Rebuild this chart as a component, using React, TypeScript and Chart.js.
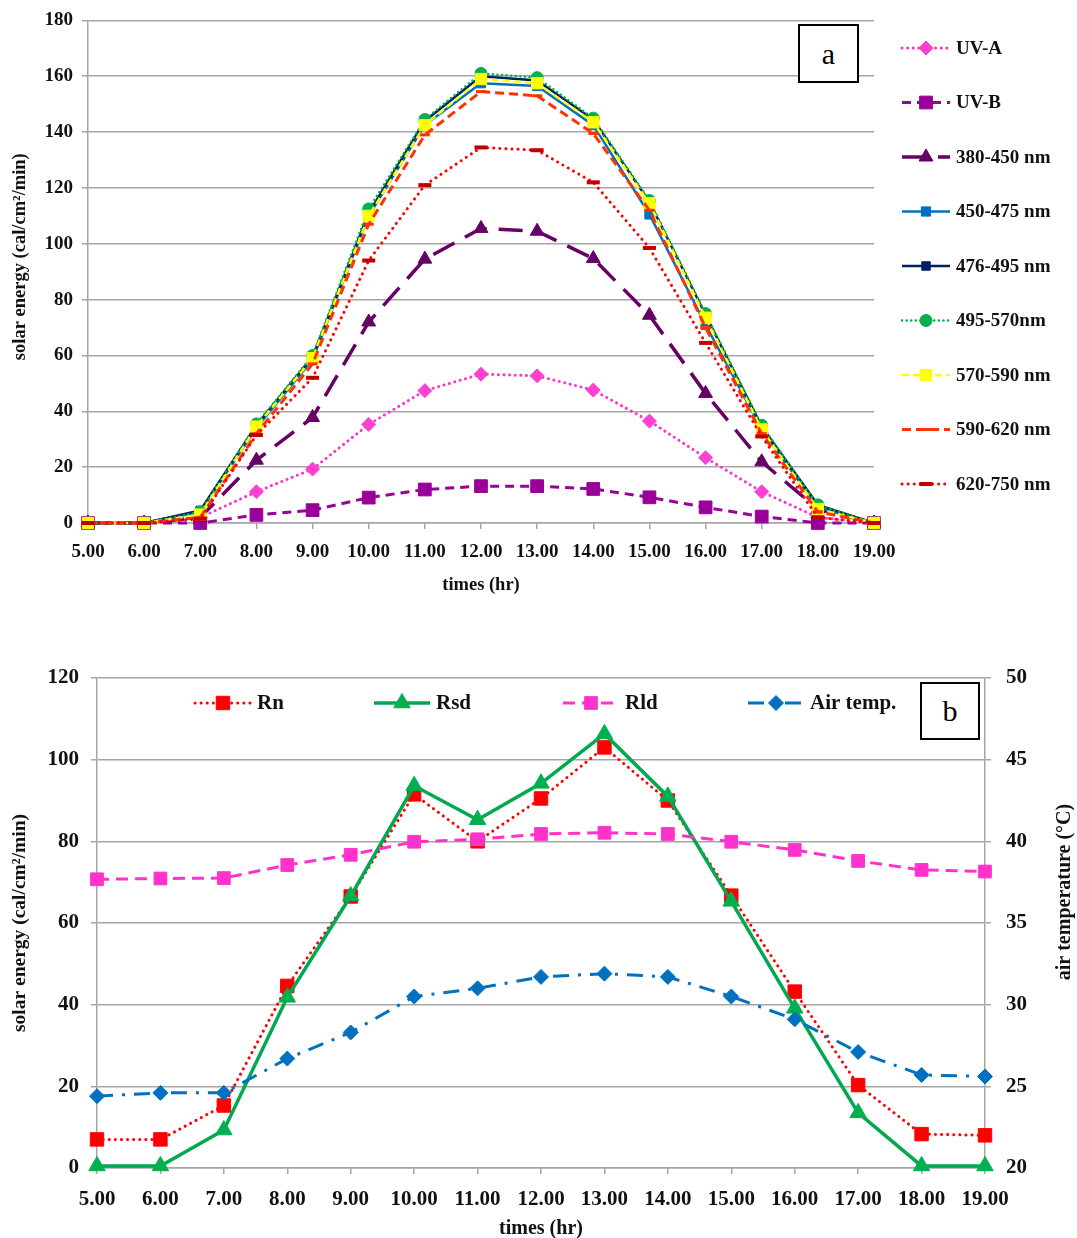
import { useEffect, useRef } from 'react';
import { Chart, registerables } from 'chart.js';

Chart.register(...registerables);

// ---------------- data ----------------
const hours = ['5.00', '6.00', '7.00', '8.00', '9.00', '10.00', '11.00', '12.00', '13.00', '14.00', '15.00', '16.00', '17.00', '18.00', '19.00'];

// panel a : solar energy by band (cal/cm²/min)
const uvA = [0, 0, 2, 11.2, 19.3, 35.3, 47.4, 53.3, 52.7, 47.6, 36.5, 23.4, 11.2, 2, 0];
const uvB = [0, 0, 0, 2.9, 4.6, 9.1, 12, 13.2, 13.2, 12.2, 9.2, 5.6, 2.3, 0, 0];
const nm380 = [0, 0, 2, 22.5, 37.8, 72, 94.5, 105.5, 104.5, 94.7, 74.4, 46.4, 21.9, 5, 0];
const nm450 = [0, 0, 4, 34, 58.5, 110, 142.5, 157.5, 156.5, 142.5, 110.5, 71, 33.5, 5.5, 0];
const nm476 = [0, 0, 4.5, 35, 59.5, 111, 144, 160, 158.5, 144.5, 115, 74.5, 34.5, 6.5, 0];
const nm495 = [0, 0, 4, 35.5, 60, 112.5, 144.5, 161, 159.5, 145, 115.5, 75, 35, 6.5, 0];
const nm570 = [0, 0, 3, 34.5, 59, 110, 142.5, 159, 157.5, 143.5, 114.5, 73.5, 33.5, 5, 0];
const nm590 = [0, 0, 2, 32, 57, 107, 139, 154.5, 153, 139.5, 112, 70, 32, 4, 0];
const nm620 = [0, 0, 1.5, 31.5, 52, 94, 121, 134.5, 133.5, 122, 98.5, 64.5, 31, 2, 0];
const labelsA = ['UV-A', 'UV-B', '380-450 nm', '450-475 nm', '476-495 nm', '495-570nm', '570-590 nm', '590-620 nm', '620-750 nm'];
const valuesA = [uvA, uvB, nm380, nm450, nm476, nm495, nm570, nm590, nm620];
const energyRangeA = [0, 180, 20];

// panel b
const rn = [7, 7, 15.3, 44.6, 66.5, 91.5, 80, 90.5, 103, 90, 66.7, 43.2, 20.3, 8.3, 8];
const rsd = [0.5, 0.5, 9.3, 41.8, 66.6, 93.6, 85.3, 94.2, 106.3, 91, 65.3, 39.1, 13.5, 0.5, 0.5];
const rld = [70.7, 70.9, 71, 74.2, 76.7, 79.9, 80.5, 81.8, 82.1, 81.8, 79.9, 77.9, 75.2, 73, 72.6];
const airTemp = [24.4, 24.6, 24.6, 26.7, 28.3, 30.5, 31.0, 31.7, 31.9, 31.7, 30.5, 29.1, 27.1, 25.7, 25.6];
const labelsB = ['Rn', 'Rsd', 'Rld', 'Air temp.'];
const valuesB = [rn, rsd, rld, airTemp];
const energyRangeB = [0, 120, 20];
const tempRangeB = [20, 50, 5];

// ---------------- styles ----------------
const FONT = "'Liberation Serif', 'Times New Roman', serif";
const TEXT = '#111111';
const GRID = '#A6A6A6';

type Style = {
  color: string; fill: string; width: number; dash: number[]; cap: CanvasLineCap;
  marker: string; r: number; mw: number; axis?: string;
};

const stylesA: Style[] = [
  { color: '#FF33CC', fill: '#FF40D0', width: 3, dash: [0.1, 5.5], cap: 'round', marker: 'rectRot', r: 7, mw: 1 },
  { color: '#990099', fill: '#990099', width: 3, dash: [9, 6], cap: 'butt', marker: 'rect', r: 9, mw: 1 },
  { color: '#660066', fill: '#660066', width: 3.5, dash: [24, 12], cap: 'butt', marker: 'triangle', r: 8, mw: 1 },
  { color: '#0070C0', fill: '#0070C0', width: 2.5, dash: [], cap: 'butt', marker: 'rect', r: 6.5, mw: 1 },
  { color: '#002060', fill: '#002060', width: 2.5, dash: [], cap: 'butt', marker: 'rect', r: 6, mw: 1 },
  { color: '#00B050', fill: '#00B050', width: 2.5, dash: [0.1, 4.5], cap: 'round', marker: 'circle', r: 6, mw: 1 },
  { color: '#FFFF00', fill: '#FFFF00', width: 2.5, dash: [7, 4], cap: 'butt', marker: 'rect', r: 8, mw: 1 },
  { color: '#FF3300', fill: '#FF3300', width: 3, dash: [9, 5], cap: 'butt', marker: 'line', r: 5, mw: 3 },
  { color: '#FF0000', fill: '#C00000', width: 3, dash: [0.1, 6], cap: 'round', marker: 'line', r: 6.5, mw: 4 },
];

const stylesB: Style[] = [
  { color: '#FF0000', fill: '#FF0000', width: 3, dash: [0.1, 6], cap: 'round', marker: 'rect', r: 9.5, mw: 1 },
  { color: '#00A850', fill: '#00B050', width: 3.5, dash: [], cap: 'butt', marker: 'triangle', r: 9.5, mw: 1 },
  { color: '#FF33CC', fill: '#FF33CC', width: 3, dash: [12, 7], cap: 'butt', marker: 'rect', r: 9, mw: 1 },
  { color: '#0070C0', fill: '#0070C0', width: 3, dash: [16, 9, 3, 9], cap: 'butt', marker: 'rectRot', r: 7.5, mw: 1, axis: 'y2' },
];

function drawMarker(ctx: CanvasRenderingContext2D, st: Style, x: number, y: number) {
  ctx.save();
  ctx.setLineDash([]);
  ctx.fillStyle = st.fill;
  ctx.strokeStyle = st.fill;
  ctx.lineWidth = st.mw;
  ctx.beginPath();
  const r = st.r;
  if (st.marker === 'line') {
    ctx.moveTo(x - r, y);
    ctx.lineTo(x + r, y);
    ctx.stroke();
    ctx.restore();
    return;
  }
  if (st.marker === 'rect') {
    const s = Math.SQRT1_2 * r;
    ctx.rect(x - s, y - s, 2 * s, 2 * s);
  } else if (st.marker === 'rectRot') {
    ctx.moveTo(x - r, y); ctx.lineTo(x, y - r); ctx.lineTo(x + r, y); ctx.lineTo(x, y + r); ctx.closePath();
  } else if (st.marker === 'triangle') {
    ctx.moveTo(x, y - r);
    ctx.lineTo(x + Math.sin(2 * Math.PI / 3) * r, y - Math.cos(2 * Math.PI / 3) * r);
    ctx.lineTo(x + Math.sin(4 * Math.PI / 3) * r, y - Math.cos(4 * Math.PI / 3) * r);
    ctx.closePath();
  } else {
    ctx.arc(x, y, r, 0, Math.PI * 2);
  }
  ctx.fill();
  ctx.stroke();
  ctx.restore();
}

function legendItem(ctx: CanvasRenderingContext2D, st: Style, label: string, x0: number, x1: number, y: number, size: number) {
  ctx.save();
  ctx.strokeStyle = st.color;
  ctx.lineWidth = st.width;
  ctx.setLineDash(st.dash);
  ctx.lineCap = st.cap;
  ctx.beginPath();
  ctx.moveTo(x0, y);
  ctx.lineTo(x1, y);
  ctx.stroke();
  ctx.restore();
  drawMarker(ctx, st, (x0 + x1) / 2, y);
  ctx.save();
  ctx.font = `bold ${size}px ${FONT}`;
  ctx.fillStyle = TEXT;
  ctx.textAlign = 'left';
  ctx.textBaseline = 'middle';
  ctx.fillText(label, x1 + 6, y + 1);
  ctx.restore();
}

function vTitle(ctx: CanvasRenderingContext2D, text: string, x: number, y: number, size: number) {
  ctx.save();
  ctx.translate(x, y);
  ctx.rotate(-Math.PI / 2);
  ctx.font = `bold ${size}px ${FONT}`;
  ctx.fillStyle = TEXT;
  ctx.textAlign = 'center';
  ctx.textBaseline = 'middle';
  ctx.fillText(text, 0, 0);
  ctx.restore();
}

function makeDatasets(values: number[][], labels: string[], styles: Style[]) {
  return values.map((v, i) => {
    const st = styles[i];
    return {
      label: labels[i],
      data: v,
      yAxisID: st.axis || 'y',
      borderColor: st.color,
      backgroundColor: st.fill,
      borderWidth: st.width,
      borderDash: st.dash,
      borderCapStyle: st.cap,
      pointStyle: st.marker,
      pointRadius: st.r,
      pointBackgroundColor: st.fill,
      pointBorderColor: st.fill,
      pointBorderWidth: st.mw,
      tension: 0,
      fill: false,
      clip: false as any,
      order: values.length - i,
    };
  });
}

const tickFont = (size: number) => ({ family: FONT, size, weight: 'bold' as const });

function configA() {
  const panelA = {
    id: 'panelA',
    afterDraw(chart: any) {
      const ctx = chart.ctx as CanvasRenderingContext2D;
      const a = chart.chartArea;
      vTitle(ctx, 'solar energy (cal/cm²/min)', 20, (a.top + a.bottom) / 2 - 15, 18.5);
      labelsA.forEach((lab, i) => legendItem(ctx, stylesA[i], lab, 902, 950, 48 + i * 54.5, 19));
    },
  };
  return {
    type: 'line' as const,
    data: { labels: hours, datasets: makeDatasets(valuesA, labelsA, stylesA) },
    plugins: [panelA],
    options: {
      responsive: false,
      maintainAspectRatio: false,
      devicePixelRatio: 1,
      animation: false as const,
      events: [],
      layout: { padding: { left: 0, top: 20, right: 203, bottom: 0 } },
      plugins: { legend: { display: false }, tooltip: { enabled: false } },
      scales: {
        x: {
          type: 'category' as const,
          offset: false,
          grid: { drawOnChartArea: false, drawTicks: true, tickLength: 6, color: GRID, lineWidth: 1.5 },
          border: { display: true, color: GRID, width: 1.5 },
          ticks: { color: TEXT, font: tickFont(19), padding: 12, autoSkip: false, maxRotation: 0, minRotation: 0 },
          title: { display: true, text: 'times (hr)', color: TEXT, font: tickFont(18.5), padding: { top: 0, bottom: 24 } },
          afterFit: (s: any) => { s.height = 97; },
        },
        y: {
          min: energyRangeA[0], max: energyRangeA[1],
          ticks: { stepSize: energyRangeA[2], color: TEXT, font: tickFont(19), padding: 9 },
          grid: { color: GRID, lineWidth: 1.5, tickLength: 6 },
          border: { display: true, color: GRID, width: 1.5 },
          afterFit: (s: any) => { s.width = 88; },
        },
      },
    },
  };
}

function configB() {
  const legendStart = [195, 374, 563, 748];
  const panelB = {
    id: 'panelB',
    afterDraw(chart: any) {
      const ctx = chart.ctx as CanvasRenderingContext2D;
      const a = chart.chartArea;
      vTitle(ctx, 'solar energy (cal/cm²/min)', 20, (a.top + a.bottom) / 2, 19.5);
      vTitle(ctx, 'air temperature (°C)', 1065, (a.top + a.bottom) / 2 - 31, 20);
      labelsB.forEach((lab, i) => legendItem(ctx, stylesB[i], lab, legendStart[i], legendStart[i] + 56, 63, 21));
    },
  };
  return {
    type: 'line' as const,
    data: { labels: hours, datasets: makeDatasets(valuesB, labelsB, stylesB) },
    plugins: [panelB],
    options: {
      responsive: false,
      maintainAspectRatio: false,
      devicePixelRatio: 1,
      animation: false as const,
      events: [],
      layout: { padding: { left: 0, top: 38, right: 0, bottom: 0 } },
      plugins: { legend: { display: false }, tooltip: { enabled: false } },
      scales: {
        x: {
          type: 'category' as const,
          offset: false,
          grid: { drawOnChartArea: false, drawTicks: true, tickLength: 6, color: GRID, lineWidth: 1.5 },
          border: { display: true, color: GRID, width: 1.5 },
          ticks: { color: TEXT, font: tickFont(21), padding: 13, autoSkip: false, maxRotation: 0, minRotation: 0 },
          title: { display: true, text: 'times (hr)', color: TEXT, font: tickFont(20), padding: { top: 0, bottom: -3 } },
          afterFit: (s: any) => { s.height = 70; },
        },
        y: {
          min: energyRangeB[0], max: energyRangeB[1],
          ticks: { stepSize: energyRangeB[2], color: TEXT, font: tickFont(21), padding: 12 },
          grid: { color: GRID, lineWidth: 1.5, tickLength: 6 },
          border: { display: true, color: GRID, width: 1.5 },
          afterFit: (s: any) => { s.width = 97; },
        },
        y2: {
          position: 'right' as const,
          min: tempRangeB[0], max: tempRangeB[1],
          ticks: { stepSize: tempRangeB[2], color: TEXT, font: tickFont(21), padding: 15 },
          grid: { drawOnChartArea: false, color: GRID, lineWidth: 1.5, tickLength: 6 },
          border: { display: true, color: GRID, width: 1.5 },
          afterFit: (s: any) => { s.width = 92; },
        },
      },
    },
  };
}

function ChartCanvas({ make, top, width, height }: { make: () => any; top: number; width: number; height: number }) {
  const ref = useRef<HTMLCanvasElement | null>(null);
  useEffect(() => {
    const chart = new Chart(ref.current as HTMLCanvasElement, make());
    return () => chart.destroy();
  }, []);
  return (
    <canvas ref={ref} width={width} height={height}
      style={{ position: 'absolute', left: 0, top, width, height, display: 'block' }} />
  );
}

function PanelTag({ text, left, top, width, height }: { text: string; left: number; top: number; width: number; height: number }) {
  return (
    <div style={{
      position: 'absolute', left, top, width, height, boxSizing: 'border-box',
      border: '2px solid #000', background: '#fff', display: 'flex', alignItems: 'center',
      justifyContent: 'center', fontFamily: FONT, fontSize: 30, color: '#000', lineHeight: 1,
    }}>{text}</div>
  );
}

export default function App() {
  return (
    <div style={{ position: 'absolute', left: 0, top: 0, width: 1077, height: 1238, background: '#fff', overflow: 'hidden' }}>
      <ChartCanvas make={configA} top={0} width={1077} height={620} />
      <ChartCanvas make={configB} top={640} width={1077} height={598} />
      <PanelTag text="a" left={798} top={24} width={61} height={59} />
      <PanelTag text="b" left={920} top={682} width={60} height={58} />
    </div>
  );
}
